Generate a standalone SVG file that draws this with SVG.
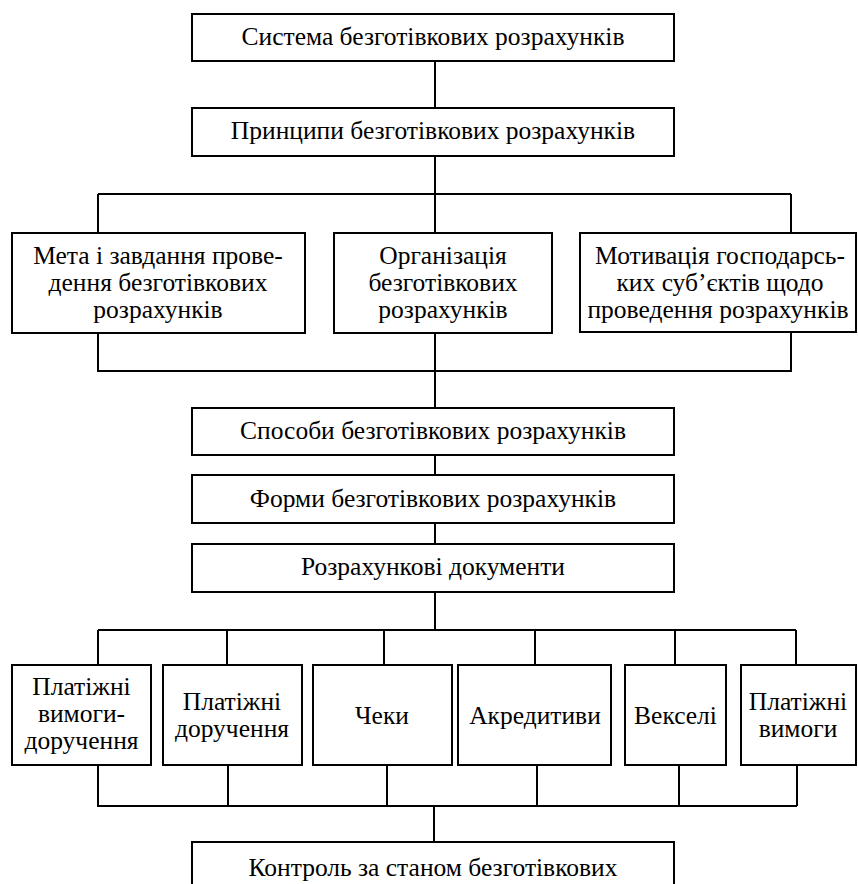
<svg xmlns="http://www.w3.org/2000/svg" width="858" height="884" viewBox="0 0 858 884">
<style>
.box{fill:#fff;stroke:#000;stroke-width:2}
.ln{fill:none;stroke:#000;stroke-width:2}
text{font-family:"Liberation Serif","Times New Roman",serif;font-size:25.5px;fill:#000;text-anchor:middle}
</style>
<rect width="858" height="884" fill="#fff"/>
<g id="connectors">
<path class="ln" d="M435 61V108M435 156V194M98 194H791M98 194V233M435 194V233M791 194V233"/>
<path class="ln" d="M98 333V371H791V332M435 333V408M435 455V475M435 523V544M435 592V630"/>
<path class="ln" d="M98 630H796M98 630V665M227 630V665M384 630V665M535 630V665M675 630V665M796 630V665"/>
<path class="ln" d="M98 765V806H797M228 765V806M387 765V806M537 765V806M679 765V806M797 765V806M434 805V842"/>
</g>
<g id="n1"><rect class="box" x="192" y="14" width="482" height="47"/><text x="433" y="45">Система безготівкових розрахунків</text></g>
<g id="n2"><rect class="box" x="192" y="108" width="482" height="48"/><text x="433" y="139">Принципи безготівкових розрахунків</text></g>
<g id="n3"><rect class="box" x="12" y="233" width="293" height="100"/><text x="158" y="264">Мета і завдання прове-</text><text x="158" y="291">дення безготівкових</text><text x="158" y="318">розрахунків</text></g>
<g id="n4"><rect class="box" x="334" y="233" width="218" height="100"/><text x="443" y="264">Організація</text><text x="443" y="291">безготівкових</text><text x="443" y="318">розрахунків</text></g>
<g id="n5"><rect class="box" x="580" y="233" width="276" height="99"/><text x="720" y="264">Мотивація господарсь-</text><text x="720" y="291">ких суб’єктів щодо</text><text x="718" y="318">проведення розрахунків</text></g>
<g id="n6"><rect class="box" x="192" y="408" width="482" height="47"/><text x="433" y="439">Способи безготівкових розрахунків</text></g>
<g id="n7"><rect class="box" x="192" y="475" width="482" height="48"/><text x="433" y="507">Форми безготівкових розрахунків</text></g>
<g id="n8"><rect class="box" x="192" y="544" width="482" height="48"/><text x="433" y="575">Розрахункові документи</text></g>
<g id="n9"><rect class="box" x="12" y="665" width="139" height="100"/><text x="81.5" y="695">Платіжні</text><text x="81.5" y="722">вимоги-</text><text x="81.5" y="749">доручення</text></g>
<g id="n10"><rect class="box" x="163" y="665" width="139" height="100"/><text x="232" y="710">Платіжні</text><text x="232" y="737">доручення</text></g>
<g id="n11"><rect class="box" x="313" y="665" width="139" height="100"/><text x="382" y="724">Чеки</text></g>
<g id="n12"><rect class="box" x="458" y="665" width="153" height="100"/><text x="535" y="724">Акредитиви</text></g>
<g id="n13"><rect class="box" x="625" y="665" width="101" height="100"/><text x="675.5" y="724">Векселі</text></g>
<g id="n14"><rect class="box" x="741" y="665" width="115" height="100"/><text x="798" y="710">Платіжні</text><text x="798" y="737">вимоги</text></g>
<g id="n15"><rect class="box" x="192" y="842" width="482" height="60"/><text x="433" y="876">Контроль за станом безготівкових</text></g>
</svg>
